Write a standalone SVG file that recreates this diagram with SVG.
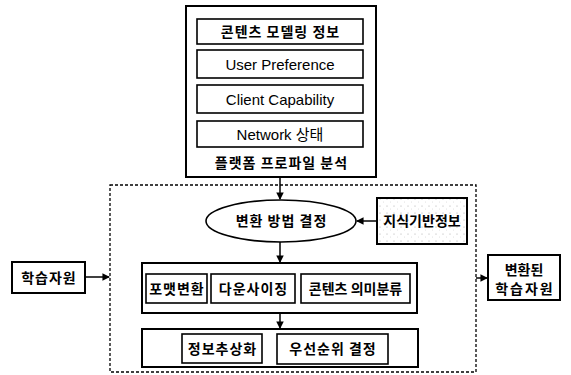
<svg xmlns="http://www.w3.org/2000/svg" width="571" height="375" viewBox="0 0 571 375">
<style>
.box{fill:#fff;stroke:#000;stroke-width:2}
.in{fill:#fff;stroke:#000;stroke-width:1.6}
.k{font-family:"Noto Sans CJK KR","Liberation Sans",sans-serif;font-weight:bold;font-size:14px;letter-spacing:1px;text-anchor:middle;fill:#000}
.e{font-family:"Liberation Sans","Noto Sans CJK KR",sans-serif;font-size:15px;text-anchor:middle;fill:#000}
.ln{stroke:#000;stroke-width:1.5;fill:none}
</style>
<defs>
<marker id="ah" viewBox="0 0 8 8" refX="7" refY="4" markerWidth="5" markerHeight="5" orient="auto">
<path d="M0,0 L8,4 L0,8 Z" fill="#000"/>
</marker>
<pattern id="stip" width="7" height="7" patternUnits="userSpaceOnUse">
<rect width="7" height="7" fill="#fff"/>
<circle cx="2" cy="3" r="0.5" fill="#999"/>
<circle cx="5.5" cy="6" r="0.4" fill="#bbb"/>
</pattern>
</defs>
<g id="platform">
<rect class="box" x="186" y="6" width="190" height="171"/>
<rect class="in" x="197" y="19" width="166" height="25"/>
<text class="k" x="280.5" y="37">콘텐츠 모델링 정보</text>
<rect class="in" x="197" y="50" width="166" height="28"/>
<text class="e" x="280" y="69.5">User Preference</text>
<rect class="in" x="197" y="85" width="166" height="28"/>
<text class="e" x="280" y="104.5">Client Capability</text>
<rect class="in" x="197" y="121" width="166" height="26"/>
<text class="e" x="280" y="139.5">Network 상태</text>
<text class="k" x="281.5" y="168">플랫폼 프로파일 분석</text>
</g>
<g id="process">
<rect x="110" y="185" width="366" height="187" fill="none" stroke="#000" stroke-width="1.3" stroke-dasharray="3,2"/>
</g>
<g id="decide">
<ellipse cx="281" cy="221" rx="75" ry="21" fill="#fff" stroke="#000" stroke-width="1.6"/>
<text class="k" x="281.5" y="226">변환 방법 결정</text>
</g>
<g id="knowledge">
<rect x="377" y="198" width="90" height="46" fill="url(#stip)" stroke="#000" stroke-width="2"/>
<text class="k" x="422" y="226" style="letter-spacing:0">지식기반정보</text>
</g>
<g id="transform">
<rect class="box" x="142" y="263" width="275" height="50"/>
<rect class="in" x="146" y="274" width="61" height="29"/>
<text class="k" x="177" y="293.5">포맷변환</text>
<rect class="in" x="211" y="274" width="84" height="29"/>
<text class="k" x="253.5" y="293.5">다운사이징</text>
<rect class="in" x="301" y="274" width="109" height="29"/>
<text class="k" x="355.5" y="293.5" style="letter-spacing:0">콘텐츠 의미분류</text>
</g>
<g id="abstract">
<rect class="box" x="142" y="329" width="276" height="38"/>
<rect class="in" x="182" y="334" width="80" height="29"/>
<text class="k" x="222.5" y="353.5">정보추상화</text>
<rect class="in" x="277" y="334" width="111" height="30"/>
<text class="k" x="333" y="354">우선순위 결정</text>
</g>
<g id="resource">
<rect class="box" x="12" y="262" width="73" height="31"/>
<text class="k" x="49" y="282.5">학습자원</text>
</g>
<g id="converted">
<rect class="box" x="488" y="255" width="72" height="45"/>
<text class="k" x="524" y="275" style="letter-spacing:0">변환된</text>
<text class="k" x="525" y="294" style="letter-spacing:2px">학습자원</text>
</g>
<g id="connectors">
<line class="ln" x1="280" y1="177" x2="280" y2="199" marker-end="url(#ah)"/>
<line class="ln" x1="280" y1="242" x2="280" y2="262" marker-end="url(#ah)"/>
<line class="ln" x1="280" y1="313" x2="280" y2="328" marker-end="url(#ah)"/>
<line class="ln" x1="377" y1="221" x2="357" y2="221" marker-end="url(#ah)"/>
<line class="ln" x1="85" y1="277" x2="109" y2="277" marker-end="url(#ah)"/>
<line class="ln" x1="476" y1="278" x2="487" y2="278" marker-end="url(#ah)"/>
</g>
</svg>
